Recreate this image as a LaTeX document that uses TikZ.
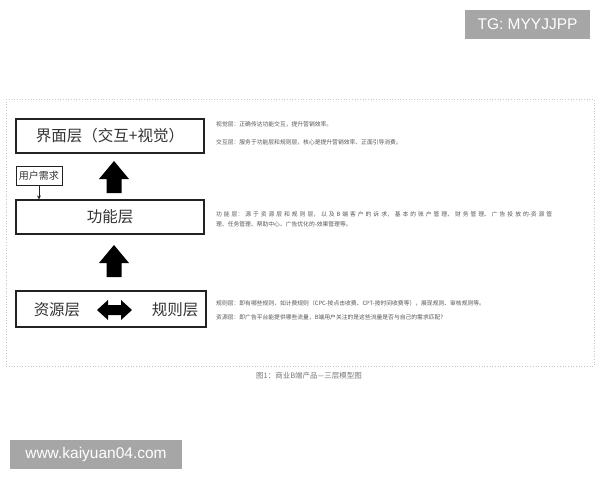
\documentclass[tikz,border=0pt]{standalone}
\usepackage{fontspec}
\usepackage{xcolor}
\usepackage{tikz}
\usetikzlibrary{arrows.meta}
\setmainfont{Noto Sans CJK SC}
\newfontfamily\wmfont{Liberation Sans}
\XeTeXlinebreaklocale "zh"
\XeTeXlinebreakskip = 0pt plus 1pt
\definecolor{boxline}{HTML}{222222}
\definecolor{labelgray}{HTML}{333333}
\definecolor{notegray}{HTML}{555555}
\definecolor{capgray}{HTML}{777777}
\definecolor{wmgray}{HTML}{A6A6A6}

\begin{document}
\begin{tikzpicture}[x=1pt, y=-1pt,
    layer/.style={draw=boxline, line width=1.2pt, minimum width=188pt, minimum height=34pt,
        inner sep=0pt, text=labelgray, font=\fontsize{15.5}{15.5}\selectfont},
    word/.style={inner sep=0pt, text=labelgray, font=\fontsize{15.5}{15.5}\selectfont},
    note/.style={anchor=west, inner sep=0pt, text=notegray, font=\fontsize{5.8}{10}\selectfont},
    stamp/.style={fill=wmgray, text=white, inner sep=0pt, font=\wmfont\fontsize{15.5}{15.5}\selectfont}]
        \useasboundingbox (0,0) rectangle (600,480);

        % Outer dotted frame
        \draw[gray!45, dotted, line width=0.7pt] (6,99) rectangle (594,366);

        % Three layers
        \node[layer] (ui) at (110,136) {界面层（交互+视觉）};
        \node[layer] (func) at (110,217) {功能层};
        \node[layer, minimum width=190pt, minimum height=36pt] (base) at (111,309) {};
        \node[word] (res) at (57,310) {资源层};
        \node[word] (rule) at (175,310) {规则层};

        % User need input
        \node[draw=boxline, line width=1pt, minimum width=46pt, minimum height=19pt, inner sep=0pt,
            text=labelgray, font=\fontsize{10}{10}\selectfont] (need) at (39,175.5) {用户需求};
        \draw[-{Stealth[length=4pt, width=4pt]}, boxline, line width=0.8pt] (need.south) -- (need.south |- func.north);

        % Block arrows between layers
        \foreach \t in {161,245} {
            \fill[black] (114,\t) -- (129,\t+18) -- (121.5,\t+18) -- (121.5,\t+32)
                -- (106.5,\t+32) -- (106.5,\t+18) -- (99,\t+18) -- cycle;
        }

        % Two-way arrow
        \fill[black] (97,310) -- (108,300) -- (108,305) -- (121,305) -- (121,300) -- (132,310)
            -- (121,320) -- (121,315) -- (108,315) -- (108,320) -- cycle;

        % Notes
        \node[note] (n1) at (216,124) {视觉层：正确传达功能交互，提升营销效率。};
        \node[note] (n2) at (216,142) {交互层：服务于功能层和规则层，核心是提升营销效率、正面引导消费。};
        \node[note, anchor=north west, text width=336pt, align=justify] (n3) at (216,211)
            {功能层：源于资源层和规则层，以及B端客户的诉求，基本的账户管理、财务管理、广告投放的-资源管\linebreak 理、任务管理、帮助中心、广告优化的-效果管理等。};
        \node[note] (n4) at (216,303) {规则层：即有哪些规则，如计费规则（CPC-按点击收费、CPT-按时间收费等），展现规则、审核规则等。};
        \node[note] (n5) at (216,317) {资源层：即广告平台能提供哪些流量，B端用户关注的是这些流量是否与自己的需求匹配?};

        % Caption
        \node[inner sep=0pt, text=capgray, font=\fontsize{7.5}{7.5}\selectfont] (cap) at (309,376) {图1：商业B端产品—三层模型图};

        % Watermarks
        \node[stamp, minimum width=125pt, minimum height=29pt] (tg) at (527.5,24.5) {TG: MYYJJPP};
        \node[stamp, minimum width=172pt, minimum height=29pt] (site) at (96,454.5) {www.kaiyuan04.com};
\end{tikzpicture}
\end{document}
